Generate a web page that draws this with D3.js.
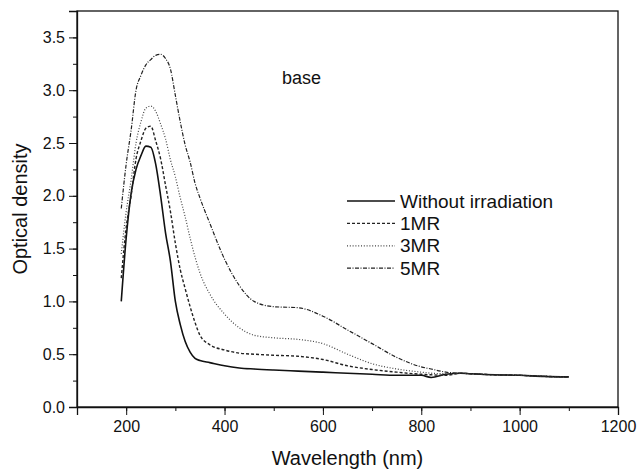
<!DOCTYPE html>
<html>
<head>
<meta charset="utf-8">
<script src="https://cdn.jsdelivr.net/npm/d3@7"></script>
<style>
  html, body { margin: 0; padding: 0; background: #fff; }
  svg { display: block; font-family: "Liberation Sans", Arial, sans-serif; }
  .axis path, .axis line { stroke: #111; }
  .axis text { fill: #111; font-size: 16px; }
</style>
</head>
<body>
<main></main>
<script>
// wavelength (nm) shared by all curves
var wavelength = [190, 200, 210, 220, 230, 240, 250, 260, 270, 280, 290, 300, 310, 320, 330, 340, 350, 370,
                  400, 430, 460, 500, 550, 600, 650, 700, 750, 800, 820, 850, 880, 900, 950, 1000, 1050, 1100];

var withoutIrr = [1.00, 1.60, 2.02, 2.25, 2.38, 2.47, 2.46, 2.30, 2.00, 1.65, 1.38, 1.00, 0.78, 0.62, 0.52, 0.46, 0.44, 0.42,
                  0.39, 0.37, 0.36, 0.35, 0.34, 0.33, 0.32, 0.31, 0.30, 0.30, 0.28, 0.31, 0.32, 0.315, 0.305, 0.30, 0.29, 0.285];
var mr1 = [1.22, 1.70, 2.00, 2.35, 2.52, 2.64, 2.66, 2.52, 2.35, 2.10, 1.85, 1.55, 1.30, 1.12, 0.95, 0.80, 0.68, 0.59,
           0.54, 0.51, 0.50, 0.49, 0.48, 0.45, 0.39, 0.355, 0.33, 0.31, 0.305, 0.30, 0.32, 0.315, 0.305, 0.30, 0.29, 0.285];
var mr3 = [1.45, 1.85, 2.15, 2.50, 2.70, 2.83, 2.85, 2.80, 2.68, 2.54, 2.34, 2.18, 1.98, 1.80, 1.60, 1.42, 1.27, 1.07,
           0.88, 0.75, 0.68, 0.655, 0.64, 0.60, 0.50, 0.41, 0.36, 0.33, 0.32, 0.315, 0.32, 0.315, 0.305, 0.30, 0.29, 0.285];
var mr5 = [1.88, 2.30, 2.62, 3.00, 3.14, 3.24, 3.29, 3.33, 3.34, 3.30, 3.20, 2.95, 2.70, 2.48, 2.32, 2.12, 1.98, 1.74,
           1.40, 1.15, 1.00, 0.95, 0.94, 0.86, 0.73, 0.60, 0.47, 0.38, 0.36, 0.33, 0.32, 0.315, 0.305, 0.30, 0.29, 0.285];

var seriesNames = ["Without irradiation", "1MR", "3MR", "5MR"];
var xTicks = [200, 400, 600, 800, 1000, 1200];
var yTicks = [0, 0.5, 1.0, 1.5, 2.0, 2.5, 3.0, 3.5];

var width = 637, height = 469,
    margin = {top: 11, right: 19, bottom: 62, left: 77};

var svg = d3.select("main").append("svg")
    .attr("width", width)
    .attr("height", height);

var x = d3.scaleLinear().domain([100, 1200]).range([margin.left, width - margin.right]),
    y = d3.scaleLinear().domain([0, 3.75]).range([height - margin.bottom, margin.top]);

// frame
svg.append("rect")
    .attr("x", margin.left)
    .attr("y", margin.top)
    .attr("width", width - margin.left - margin.right)
    .attr("height", height - margin.top - margin.bottom)
    .attr("fill", "none")
    .attr("stroke", "#111")
    .attr("stroke-width", 1.3);

// minor ticks
svg.append("g")
    .attr("class", "axis")
    .attr("transform", "translate(0," + y(0) + ")")
    .call(d3.axisBottom(x).tickValues(d3.range(100, 1201, 100)).tickSize(4).tickFormat(""))
    .select(".domain").remove();
svg.append("g")
    .attr("class", "axis")
    .attr("transform", "translate(" + x(100) + ",0)")
    .call(d3.axisLeft(y).tickValues(d3.range(0, 3.76, 0.25)).tickSize(4).tickFormat(""))
    .select(".domain").remove();

// major ticks
var xAxis = svg.append("g")
    .attr("class", "axis")
    .attr("transform", "translate(0," + y(0) + ")")
    .call(d3.axisBottom(x).tickValues(xTicks).tickSize(8).tickPadding(6).tickFormat(d3.format("d")));
xAxis.select(".domain").attr("stroke-width", 1.3);

var yAxis = svg.append("g")
    .attr("class", "axis")
    .attr("transform", "translate(" + x(100) + ",0)")
    .call(d3.axisLeft(y).tickValues(yTicks).tickSize(8).tickPadding(4).tickFormat(d3.format(".1f")));
yAxis.select(".domain").attr("stroke-width", 1.3);

// axis titles
svg.append("text")
    .attr("x", (margin.left + width - margin.right) / 2)
    .attr("y", 465)
    .attr("text-anchor", "middle")
    .attr("font-size", 20)
    .attr("fill", "#111")
    .text("Wavelength (nm)");

svg.append("text")
    .attr("transform", "translate(27," + (margin.top + height - margin.bottom) / 2 + ") rotate(-90)")
    .attr("text-anchor", "middle")
    .attr("font-size", 20)
    .attr("fill", "#111")
    .text("Optical density");

svg.append("text")
    .attr("x", 282)
    .attr("y", 84)
    .attr("font-size", 18)
    .attr("fill", "#111")
    .text("base");

// curves
var styles = [
    {dash: null, w: 1.6, c: "#111"},
    {dash: "3,2", w: 1.4, c: "#222"},
    {dash: "1,1.8", w: 1.2, c: "#444"},
    {dash: "4,1.5,1,1.5", w: 1.2, c: "#222"}
];
var values = [withoutIrr, mr1, mr3, mr5];

var line = d3.line()
    .x(function (d) { return x(d[0]); })
    .y(function (d) { return y(d[1]); })
    .curve(d3.curveMonotoneX);

values.forEach(function (vals, i) {
    svg.append("path")
        .datum(d3.zip(wavelength, vals))
        .attr("fill", "none")
        .attr("stroke", styles[i].c)
        .attr("stroke-width", styles[i].w)
        .attr("stroke-dasharray", styles[i].dash)
        .attr("d", line);
});

// legend
var legend = svg.append("g").attr("transform", "translate(347,201)");
seriesNames.forEach(function (name, i) {
    var g = legend.append("g").attr("transform", "translate(0," + (i * 22.4) + ")");
    g.append("line")
        .attr("x1", 0).attr("x2", 48)
        .attr("stroke", styles[i].c)
        .attr("stroke-width", styles[i].w)
        .attr("stroke-dasharray", styles[i].dash);
    g.append("text")
        .attr("x", 53)
        .attr("dy", "0.35em")
        .attr("font-size", 19)
        .attr("fill", "#111")
        .text(name);
});
</script>
</body>
</html>
